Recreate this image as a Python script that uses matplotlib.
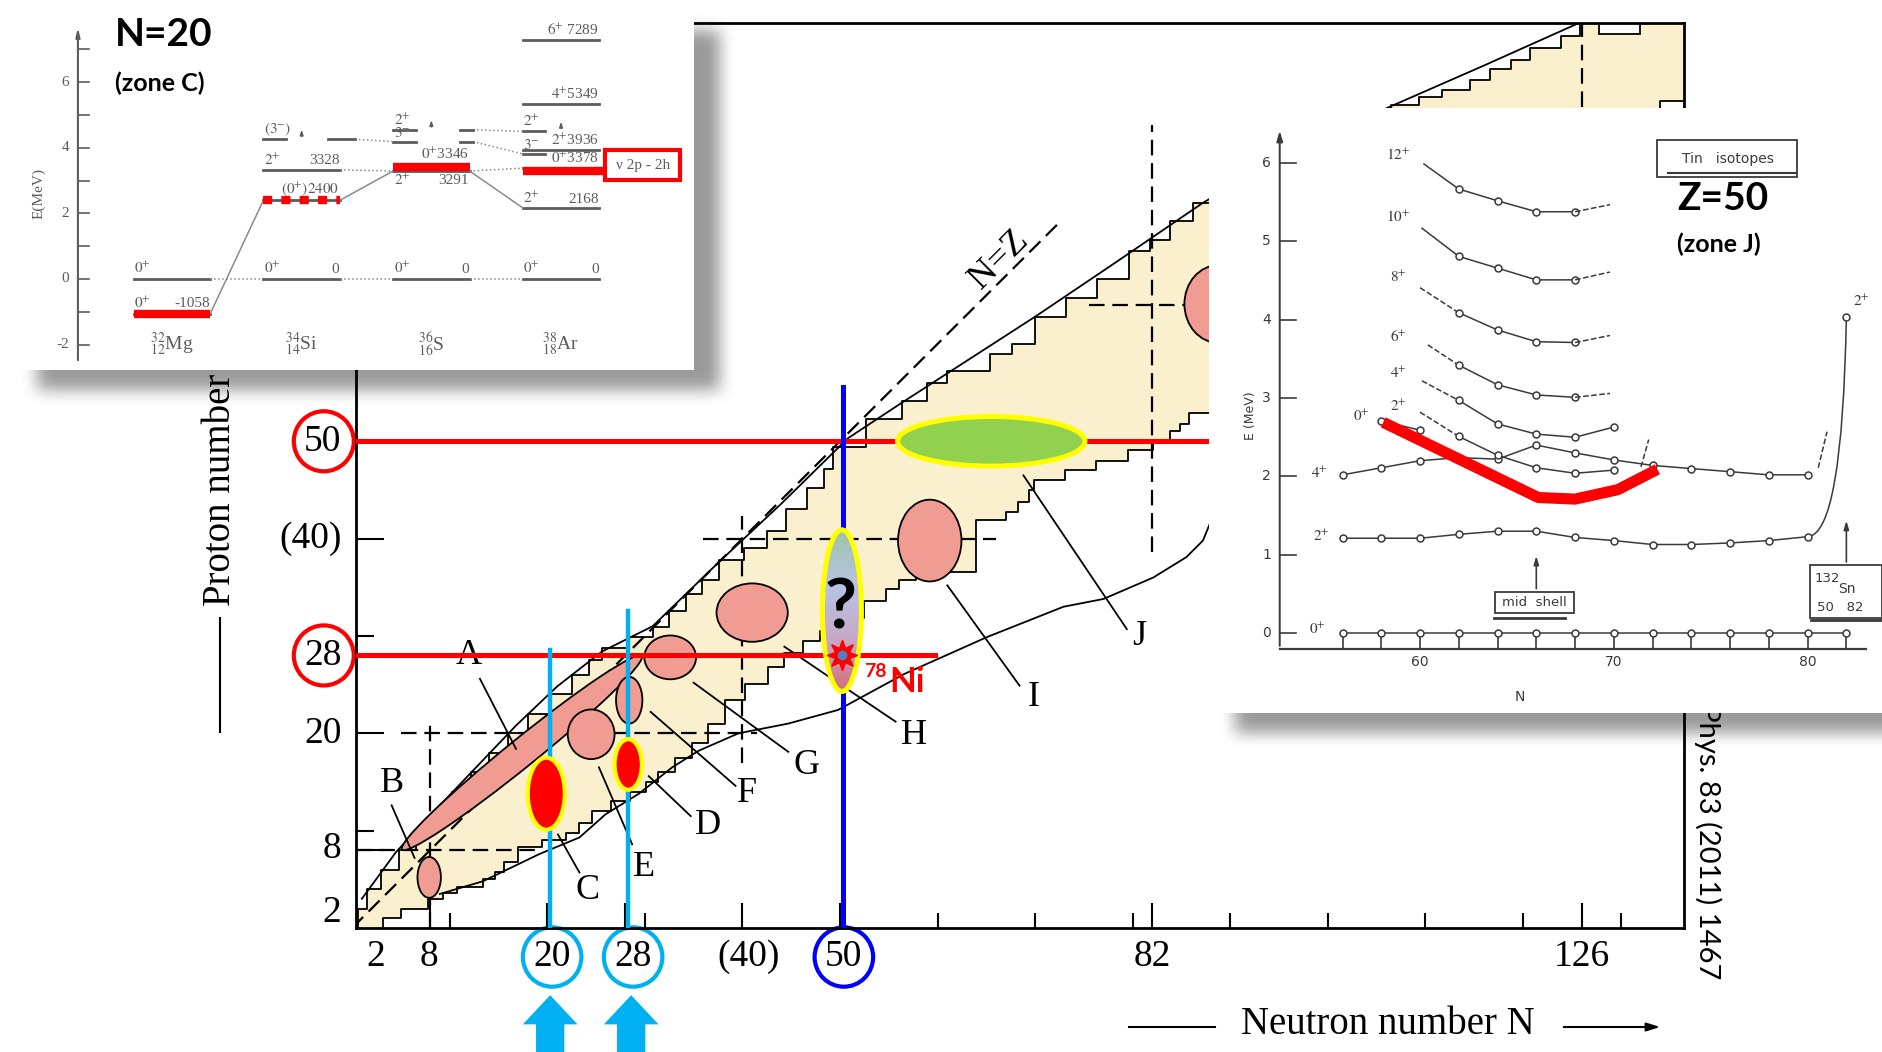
import numpy as np
import matplotlib
matplotlib.use("Agg")
import matplotlib.pyplot as plt
from matplotlib.patches import Ellipse, Rectangle, FancyArrow, PathPatch
from matplotlib.path import Path

plt.rcParams['font.family'] = ['Liberation Serif', 'DejaVu Serif']
plt.rcParams['mathtext.fontset'] = 'stix'

W, H = 1883, 1052

# ---------------- main chart data ----------------
# proton-rich edge of known nuclei: lightest N and the Z where that step ends
pr_N = [0.6, 1.5, 3.0, 4.8, 6.6, 8.4, 10.2, 12.2, 14.0, 16.0,
        18.0, 20.2, 22.5, 24.3, 25.6, 28.4, 30.8, 32.5, 34.2, 35.9,
        37.6, 40.2, 42.5, 44.5, 46.6, 48.4, 49.3, 52.7, 56.4, 58.9,
        61.0, 65.4, 67.6, 70.0, 73.2, 76.3, 79.6, 81.8, 83.8, 86.2,
        89.5, 92.5, 96.0, 99.5, 103.0, 106.5, 109.3, 111.7, 114.6, 116.6,
        118.8, 120.7, 123.9, 125.8]
pr_Ztop = [2.0, 4.0, 6.0, 8.0, 10.0, 12.0, 14.0, 16.0, 18.0, 20.0,
           22.0, 24.0, 26.0, 27.5, 28.8, 29.9, 30.9, 32.6, 34.3, 35.7,
           37.8, 39.0, 40.8, 43.0, 45.2, 47.2, 49.4, 52.3, 54.1, 56.0,
           57.2, 59.0, 60.0, 62.8, 64.7, 66.7, 69.5, 70.7, 72.6, 74.5,
           76.0, 77.5, 79.5, 81.5, 83.0, 84.5, 85.4, 86.1, 87.1, 88.2,
           89.2, 90.4, 91.6, 93.0]
# neutron-rich edge: heaviest N and the Z where that step starts
nr_N = [3.2, 5.0, 7.8, 9.3, 10.7, 13.4, 14.6, 15.6, 17.0, 19.5,
        21.9, 23.3, 24.6, 26.5, 28.5, 30.1, 31.4, 33.1, 34.8, 36.5,
        38.2, 40.3, 42.6, 44.3, 46.2, 48.0, 50.5, 52.5, 54.7, 56.1,
        57.8, 63.9, 67.0, 68.2, 69.4, 69.9, 73.1, 76.2, 79.5, 82.1,
        83.8, 84.8, 85.8, 88.0, 92.0, 98.0, 104.0, 110.0, 116.0, 122.0,
        128.0, 134.0, 140.0]
nr_Zbot = [0.0, 1.0, 2.0, 3.0, 3.6, 4.2, 5.0, 5.8, 6.8, 8.3,
           9.0, 9.8, 10.8, 12.0, 13.0, 14.0, 15.0, 16.0, 17.5, 19.0,
           21.0, 23.4, 25.1, 26.8, 28.2, 29.5, 30.5, 31.8, 33.6, 34.8,
           35.7, 36.6, 41.9, 42.7, 43.8, 45.0, 46.0, 47.0, 48.0, 49.1,
           50.1, 51.1, 51.8, 52.9, 55.0, 58.0, 62.0, 66.0, 70.0, 74.0,
           78.0, 82.0, 85.0]
# smooth limit lines
pdrip_N = [1.0, 4.5, 9.0, 12.8, 16.8, 21.0, 25.6, 30.8, 37.6, 44.0, 50.8,
           56.4, 61.5, 70.0, 78.0, 87.2, 96.0, 106.2, 116.0, 125.8]
pdrip_Z = [3.0, 7.8, 12.6, 16.6, 20.8, 24.8, 28.4, 31.0, 37.6, 43.6, 50.3,
           54.0, 57.3, 62.8, 68.2, 74.5, 79.6, 84.3, 88.6, 93.0]
ndrip_N = [9.0, 13.4, 19.2, 23.3, 26.0, 29.4, 32.8, 35.5, 39.6, 44.7,
           49.8, 56.6, 65.1, 72.9, 77.0, 82.1, 85.5, 87.2, 88.5]
ndrip_Z = [3.5, 4.8, 7.6, 9.3, 11.7, 13.8, 16.5, 18.2, 20.0, 21.0,
           22.4, 26.1, 29.9, 33.0, 33.8, 36.0, 38.1, 39.8, 43.0]

# shape-coexistence zones (pink)
pink_N = [7.9, 17.4, 24.5, 28.4, 32.6, 41.0, 59.2, 88.8]
pink_Z = [5.2, 18.0, 19.9, 23.4, 27.8, 32.4, 39.8, 64.1]
pink_w = [2.4, 31.6, 4.8, 2.7, 5.3, 7.3, 6.5, 7.0]
pink_h = [4.2, 2.9, 5.1, 4.8, 4.5, 6.0, 8.4, 8.0]
pink_ang = [0, 39, 0, 0, 0, 0, 0, 0]

lab = ['A', 'B', 'C', 'D', 'E', 'F', 'G', 'H', 'I', 'J']
lab_N = [12.0, 4.05, 24.1, 36.5, 29.9, 40.5, 46.6, 57.6, 69.9, 80.7]
lab_Z = [28.0, 14.8, 3.9, 10.5, 6.2, 13.8, 16.7, 19.8, 23.7, 29.9]
lead_N0 = [13.1, 4.05, 23.3, 34.7, 28.7, 39.3, 44.7, 55.7, 68.4, 79.4]
lead_Z0 = [25.6, 12.6, 5.7, 11.5, 8.6, 14.6, 18.1, 21.2, 24.9, 30.7]
lead_N1 = [16.8, 6.4, 21.1, 30.4, 25.3, 30.6, 35.0, 44.3, 61.0, 68.8]
lead_Z1 = [18.4, 7.2, 9.6, 15.6, 16.5, 22.2, 25.2, 28.9, 35.2, 46.5]

ylab_Z = [1.6, 8.1, 20, 28, 40, 50]
ylab_txt = ['2', '8', '20', '28', '(40)', '50']
xlab_N = [2.45, 7.9, 20.5, 28.8, 40.6, 50.4, 82, 126]
xlab_txt = ['2', '8', '20', '28', '(40)', '50', '82', '126']

# ---------------- left inset (N=20) data, MeV ----------------
nuc_lab = [r'${}^{32}_{12}$Mg', r'${}^{34}_{14}$Si', r'${}^{36}_{16}$S', r'${}^{38}_{18}$Ar']
lvl_col = [0, 0, 1, 1, 1, 2, 2, 3, 3, 3, 3, 3, 3]
lvl_E = [0.0, -1.058, 0.0, 2.4, 3.328, 0.0, 3.291, 0.0, 2.168, 3.378, 3.936, 5.349, 7.289]
short_col = [1, 2, 2, 3, 3]
short_E = [4.26, 4.19, 4.55, 3.81, 4.5]
red_col = [0, 1, 2, 3]
red_E = [-1.058, 2.40, 3.40, 3.30]

# ---------------- right inset (Sn isotopes) data, MeV ----------------
sn_N = [56, 58, 60, 62, 64, 66, 68, 70, 72, 74, 76, 78, 80, 82]
sn_0 = [0, 0, 0, 0, 0, 0, 0, 0, 0, 0, 0, 0, 0, 0]
sn_2 = [1.21, 1.21, 1.21, 1.26, 1.30, 1.30, 1.22, 1.18, 1.13, 1.13, 1.15, 1.18, 1.23, 4.04]
sn_4 = [2.02, 2.11, 2.20, 2.24, 2.22, 2.40, 2.30, 2.21, 2.14, 2.10, 2.06, 2.02, 2.02]
b0_N = [58, 60]
b0_E = [2.71, 2.59]
b2_E = [2.51, 2.27, 2.11, 2.04, 2.08]
b4_E = [2.97, 2.67, 2.54, 2.50, 2.63]
b6_E = [3.42, 3.17, 3.04, 3.01]
b8_E = [4.09, 3.87, 3.72, 3.71]
b10_E = [4.81, 4.66, 4.51, 4.51]
b12_E = [5.67, 5.52, 5.38, 5.38]
lead_in_N = [60.0, 60.1, 60.4, 60.0, 60.1, 60.2]
lead_in_E = [2.82, 3.22, 3.68, 4.41, 5.17, 5.99]
tail_E = [3.06, 3.80, 4.61, 5.47]
red_N = [58.1, 66.1, 68.0, 70.2, 72.25]
red_line_E = [2.69, 1.73, 1.71, 1.83, 2.09]


def px(x, y):
    # figure pixel (from top-left) -> inches for fig.dpi_scale_trans
    return x / 100, (H - y) / 100


def stairs_xy(n, z_edges):
    x = np.repeat(n, 2)
    y = np.column_stack([z_edges[:-1], z_edges[1:]]).ravel()
    return x, y


fig = plt.figure(figsize=(W / 100, H / 100), dpi=100)
fig.patch.set_facecolor('white')
ax = fig.add_axes([356 / W, 1 - 928 / H, (1684 - 356) / W, (928 - 22.7) / H])

# known-nuclei region
lx, ly = stairs_xy(np.array(pr_N), np.array([0] + pr_Ztop))
rx, ry = stairs_xy(np.array(nr_N), np.array(nr_Zbot + [93]))
ax.fill(np.concatenate([lx, rx[::-1]]), np.concatenate([ly, ry[::-1]]),
        color='#FAF0CD', lw=0, zorder=1)
ax.plot(lx, ly, color='k', lw=1.3, zorder=2)
ax.plot(rx, ry, color='k', lw=1.3, zorder=2)
ax.add_patch(Rectangle((127.8, 91.8), 4.2, 2, fc='white', ec='k', lw=1.3, zorder=2))
ax.plot(pdrip_N, pdrip_Z, color='k', lw=1.3, zorder=2)
ax.plot(ndrip_N, ndrip_Z, color='k', lw=1.3, zorder=2)

# dashed magic-number guides
dash = dict(color='k', lw=1.6, ls=(0, (7, 3.5)), zorder=2.5)
ax.plot([0, 72.6], [0, 72.6], **dash)
ax.plot([8, 8], [0, 21.4], **dash)
ax.plot([0.4, 19.5], [8, 8], **dash)
ax.plot([5, 41.5], [20, 20], **dash)
ax.plot([40, 40], [17, 42.3], **dash)
ax.plot([36, 66], [40, 40], **dash)
ax.plot([82, 82], [38.6, 82.5], **dash)
ax.plot([75.5, 96], [64, 64], **dash)
ax.plot([126, 126], [70, 93], **dash)
ax.text(66.3, 68.6, 'N=Z', rotation=44.9, fontsize=26, ha='center', va='center', zorder=3)

for n, z, w, h, a in zip(pink_N, pink_Z, pink_w, pink_h, pink_ang):
    ax.add_patch(Ellipse((n, z), w, h, angle=a, fc='#F09C92', ec='k', lw=1.3, zorder=3))
for i in range(len(lab)):
    ax.plot([lead_N0[i], lead_N1[i]], [lead_Z0[i], lead_Z1[i]], color='k', lw=1.3, zorder=3)
    ax.text(lab_N[i], lab_Z[i], lab[i], fontsize=26, ha='center', va='center', zorder=3)

# highlighted magic lines
ax.plot([0.4, 59.7], [28, 28], color='#FF0000', lw=3.6, zorder=4)
ax.plot([0.4, 136.5], [50, 50], color='#FF0000', lw=3.6, zorder=4)
ax.plot([20.3, 20.3], [0, 28.6], color='#00B0F0', lw=3.2, zorder=4)
ax.plot([28.3, 28.3], [0, 32.6], color='#00B0F0', lw=3.2, zorder=4)
ax.plot([50.3, 50.3], [0, 55.6], color='#0000FF', lw=3.6, zorder=4.5)

ax.add_patch(Ellipse((19.9, 13.8), 3.8, 7.4, fc='#FF0000', ec='#FFFF00', lw=3, zorder=5))
ax.add_patch(Ellipse((28.3, 16.8), 2.8, 5.2, fc='#FF0000', ec='#FFFF00', lw=3, zorder=5))
ax.add_patch(Ellipse((65.5, 50.0), 19.2, 5.1, fc='#92D050', ec='#FFFF00', lw=3.6, zorder=5))

# 78Ni question-mark zone with gradient fill
stops = [0.0, 0.35, 0.7, 1.0]
cols = np.array([[0x9F, 0xC3, 0xA9], [0xB7, 0xC3, 0xE3], [0xC8, 0xA6, 0xC4], [0xD6, 0x6A, 0x78]]) / 255
t = np.linspace(0, 1, 80)
grad = np.stack([np.interp(t, stops, cols[:, k]) for k in range(3)], axis=-1)[:, None, :]
grad = np.repeat(grad, 4, axis=1)
im = ax.imshow(grad, extent=[48.0, 52.4, 24.0, 41.0], aspect='auto', zorder=5, interpolation='bilinear')
clip = Ellipse((50.2, 32.6), 4.0, 16.6, transform=ax.transData)
im.set_clip_path(clip)
ax.add_patch(Ellipse((50.2, 32.6), 4.0, 16.6, fill=False, ec='#FFFF00', lw=3.6, zorder=5.5))
ax.text(50.1, 32.8, '?', family='Lato', fontweight='bold', fontsize=50, ha='center', va='center', zorder=6)
ax.plot(50.2, 28.0, marker=(8, 1, 0), ms=22, color='#FF0000', mec='#FF0000', zorder=7)
ax.plot(50.2, 28.0, 'o', ms=6, color='#4F81BD', zorder=8)
ax.text(52.5, 25.75, '78', family='Lato', fontweight='bold', fontsize=14, color='#FF0000', zorder=7)
ax.text(55.1, 24.2, 'Ni', family='Lato', fontweight='bold', fontsize=25, color='#FF0000', zorder=7)

ax.set_xlim(0.4, 136.5)
ax.set_ylim(0, 93)
ax.set_xticks([8, 20, 28, 40, 50, 82, 126])
ax.set_xticks([10, 30, 60, 70, 80, 90, 100, 110, 120, 130], minor=True)
ax.set_yticks([8, 20, 28, 40, 50])
ax.set_yticks([10, 30, 60, 70, 80, 90], minor=True)
ax.tick_params(which='both', direction='in', labelbottom=False, labelleft=False, width=1.5)
ax.tick_params(axis='x', which='major', length=18)
ax.tick_params(axis='x', which='minor', length=11)
ax.tick_params(axis='y', which='major', length=20)
ax.tick_params(axis='y', which='minor', length=13)
for s in ax.spines.values():
    s.set_linewidth(2)

for z, s in zip(ylab_Z, ylab_txt):
    ax.text(-1.1, z, s, fontsize=27, ha='right', va='center', clip_on=False)
for n, s in zip(xlab_N, xlab_txt):
    ax.text(n, -2.98, s, fontsize=27, ha='center', va='center', clip_on=False)
for z in [50, 28]:
    ax.add_patch(Ellipse((-2.9, z), 6.15, 6.17, fill=False, ec='#FF0000', lw=3, clip_on=False))
for n in [20.5, 28.8]:
    ax.add_patch(Ellipse((n, -2.98), 6.0, 6.1, fill=False, ec='#00B0F0', lw=3, clip_on=False))
    ax.add_patch(FancyArrow(n - 0.2, -13.5, 0, 6.6, width=2.9, head_width=5.6, head_length=3.0,
                            length_includes_head=True, color='#00B0F0', lw=0, clip_on=False))
ax.add_patch(Ellipse((50.4, -2.98), 6.0, 6.1, fill=False, ec='#0000FF', lw=3, clip_on=False))

# axis titles drawn in figure pixels
ax.text(*px(220, 490), 'Proton number', rotation=90, fontsize=28, ha='center', va='center',
        transform=fig.dpi_scale_trans)
ax.plot([2.20, 2.20], [(H - 618) / 100, (H - 732) / 100], color='k', lw=1.5,
        transform=fig.dpi_scale_trans, clip_on=False)
ax.text(*px(1388, 1024), 'Neutron number N', fontsize=28, ha='center', va='center',
        transform=fig.dpi_scale_trans)
ax.plot([11.29, 12.15], [(H - 1027) / 100] * 2, color='k', lw=1.5,
        transform=fig.dpi_scale_trans, clip_on=False)
ax.annotate('', xy=px(1663, 1027), xytext=px(1561, 1027), xycoords=fig.dpi_scale_trans,
            textcoords=fig.dpi_scale_trans, annotation_clip=False,
            arrowprops=dict(arrowstyle='-|>,head_length=0.8,head_width=0.25', color='k', lw=1.5))
ax.text(*px(1708, 979), 'Rev. Mod. Phys. 83 (2011) 1467', rotation=-90, family='Lato', fontsize=21,
        ha='center', va='bottom', transform=fig.dpi_scale_trans)

# ---------------- drop shadows behind the two insets ----------------
def box_blur(a, r):
    k = 2 * r + 1
    for axis in (0, 1):
        pad = [(0, 0), (0, 0)]
        pad[axis] = (r + 1, r)
        c = np.cumsum(np.pad(a, pad, mode='edge'), axis=axis)
        a = (c[k:] - c[:-k]) / k if axis == 0 else (c[:, k:] - c[:, :-k]) / k
    return a


mask = np.zeros((H, W))
dx, dy = 26, 20
mask[10 + dy:370 + dy, 11 + dx:694 + dx] = 1
mask[108 + dy:713 + dy, 1209 + dx:W] = 1
for _ in range(3):
    mask = box_blur(mask, 7)
shade = np.zeros((H, W, 4))
shade[..., 3] = 0.4 * mask
axS = fig.add_axes([0, 0, 1, 1], zorder=2)
axS.imshow(shade, extent=(0, W, H, 0), aspect='auto', interpolation='nearest')
axS.set_xlim(0, W)
axS.set_ylim(H, 0)
axS.axis('off')


def bare(a):
    for s in a.spines.values():
        s.set_visible(False)
    a.set_xticks([])
    a.set_yticks([])
    a.set_facecolor('white')


# ---------------- left inset: N=20 level scheme ----------------
axL = fig.add_axes([11 / W, 1 - 370 / H, (694 - 11) / W, (370 - 10) / H], zorder=3)
bare(axL)
axL.set_xlim(-1.241, 4.025)
axL.set_ylim(-2.774, 8.20)
g = '#5c5c5c'
axL.annotate('', xy=(-0.725, 7.75), xytext=(-0.725, -2.56),
             arrowprops=dict(arrowstyle='-|>,head_length=0.5,head_width=0.12', color=g, lw=1.5))
for e in range(-2, 8):
    axL.plot([-0.725, -0.64], [e, e], color=g, lw=1.2)
for e in [-2, 0, 2, 4, 6]:
    axL.text(-0.79, e, str(e), ha='right', va='center', fontsize=11, color=g)
axL.text(-1.03, 2.62, 'E(MeV)', rotation=90, ha='center', va='center', fontsize=11, color=g)

hw = 0.295
for c, e in zip(lvl_col, lvl_E):
    axL.plot([c - hw, c + hw], [e, e], color=g, lw=2)
for c, e in zip(short_col, short_E):
    axL.plot([c - hw, c - 0.12], [e, e], color=g, lw=2)
for c0, e0, c1, e1, st in [(0.295, 0, 0.705, 0, ':'), (1.295, 0, 1.705, 0, ':'), (2.295, 0, 2.705, 0, ':'),
                           (0.295, -1.058, 0.705, 2.4, '-'), (1.295, 2.4, 1.705, 3.291, '-'),
                           (2.295, 3.291, 2.705, 2.168, '-'), (1.295, 3.328, 1.705, 3.291, ':'),
                           (2.295, 3.291, 2.705, 3.378, ':'), (1.41, 4.26, 1.705, 4.19, ':'),
                           (2.32, 4.19, 2.705, 3.81, ':'), (2.32, 4.55, 2.705, 4.5, ':')]:
    axL.plot([c0, c1], [e0, e1], color='#8a8a8a', lw=1.1, ls=st)
for c0, c1, e in [(1.20, 1.41, 4.26), (2.22, 2.32, 4.19), (2.22, 2.32, 4.55)]:
    axL.plot([c0, c1], [e, e], color=g, lw=2)
for c, e0 in [(1.0, 4.26), (2.0, 4.55), (3.0, 4.5)]:
    axL.annotate('', xy=(c, e0 + 0.38), xytext=(c, e0),
                 arrowprops=dict(arrowstyle='-|>,head_length=0.3,head_width=0.1', color=g, lw=1))

for c, e in zip(red_col, red_E):
    x1 = 3.34 if c == 3 else c + hw
    ls = (0, (1.1, 1.1)) if c == 1 else '-'
    axL.plot([c - hw, x1], [e, e], color='#FF0000', lw=6, ls=ls, solid_capstyle='butt',
             dash_capstyle='butt', zorder=4)
axL.add_patch(Rectangle((3.34, 3.02), 0.58, 0.91, fill=False, ec='#FF0000', lw=3, zorder=4))
axL.text(3.63, 3.47, 'ν 2p - 2h', fontsize=11, color=g, ha='center', va='center')

lvl_txt = [(-0.29, 0.08, '$0^{+}$', 'left'), (-0.29, -0.96, '$0^{+}$', 'left'),
           (0.29, -0.96, '-1058', 'right'),
           (0.71, 0.08, '$0^{+}$', 'left'), (1.29, 0.08, '0', 'right'),
           (1.29, 2.48, '$(0^{+})2400$', 'right'), (0.71, 3.40, '$2^{+}$', 'left'),
           (1.29, 3.40, '3328', 'right'), (0.71, 4.30, '$(3^{-})$', 'left'),
           (1.71, 0.08, '$0^{+}$', 'left'), (2.29, 0.08, '0', 'right'),
           (2.29, 3.56, '$0^{+}$3346', 'right'), (1.71, 4.60, '$2^{+}$', 'left'),
           (1.71, 4.23, '$3^{-}$', 'left'),
           (2.71, 0.08, '$0^{+}$', 'left'), (3.29, 0.08, '0', 'right'),
           (2.71, 2.24, '$2^{+}$', 'left'), (3.29, 2.24, '2168', 'right'),
           (3.29, 3.44, '$0^{+}$3378', 'right'), (2.71, 3.86, '$3^{-}$', 'left'),
           (3.29, 3.98, '$2^{+}$3936', 'right'), (2.71, 4.56, '$2^{+}$', 'left'),
           (3.29, 5.40, '$4^{+}$5349', 'right'), (3.29, 7.34, '$6^{+}$ 7289', 'right')]
for c, e, s, ha in lvl_txt:
    axL.text(c, e, s, fontsize=11, color=g, ha=ha, va='bottom')
axL.text(2.29, 3.0, '3291', fontsize=11, color=g, ha='right', va='center')
axL.text(1.71, 3.0, '$2^{+}$', fontsize=11, color=g, ha='left', va='center')
for c, s in enumerate(nuc_lab):
    axL.text(c, -2.0, s, fontsize=14, color=g, ha='center', va='center')
axL.text(-0.44, 7.99, 'N=20', family='Lato', fontweight='bold', fontsize=28, ha='left', va='top')
axL.text(-0.44, 6.31, '(zone C)', family='Lato', fontweight='bold', fontsize=18, ha='left', va='top')

# ---------------- right inset: Sn isotopes ----------------
axR = fig.add_axes([1209 / W, 1 - 713 / H, (W - 1209) / W, (713 - 108) / H], zorder=3)
bare(axR)
axR.set_xlim(49.11, 83.89)
axR.set_ylim(-1.022, 6.705)
k = '#3a3a3a'
axR.annotate('', xy=(52.76, 6.45), xytext=(52.76, -0.2),
             arrowprops=dict(arrowstyle='-|>,head_length=0.6,head_width=0.18', color=k, lw=1.4))
axR.plot([52.76, 83.03], [-0.2, -0.2], color=k, lw=1.6)
for e in range(0, 7):
    axR.plot([52.76, 53.6], [e, e], color=k, lw=1.2)
    axR.text(52.3, e, str(e), fontsize=10, color=k, ha='right', va='center', family='DejaVu Sans')
for n in sn_N:
    axR.plot([n, n], [-0.2, -0.02], color=k, lw=1.2)
for n in [60, 70, 80]:
    axR.text(n, -0.37, str(n), fontsize=10, color=k, ha='center', va='center', family='DejaVu Sans')
axR.text(65.16, -0.82, 'N', fontsize=10, color=k, ha='center', va='center', family='DejaVu Sans')
axR.text(51.23, 2.77, 'E (MeV)', fontsize=9, color=k, rotation=90, ha='center', va='center',
         family='DejaVu Sans')

pt = dict(color=k, lw=1.1, marker='o', ms=5, mfc='white', mec=k, mew=1.1)
axR.plot(sn_N, sn_0, **pt)
axR.plot(sn_N[:-1], sn_2[:-1], **pt)
axR.plot(sn_N[-1], sn_2[-1], **pt)
axR.add_patch(PathPatch(Path([(80, sn_2[-2]), (81.8, 1.25), (82, sn_2[-1])],
                             [Path.MOVETO, Path.CURVE3, Path.CURVE3]), fill=False, ec=k, lw=1.1))
axR.plot(sn_N[:13], sn_4, **pt)
axR.plot(b0_N, b0_E, **pt)
bands = [b2_E, b4_E, b6_E, b8_E, b10_E, b12_E]
for i, be in enumerate(bands):
    bn = sn_N[3:3 + len(be)]
    axR.plot([lead_in_N[i], bn[0]], [lead_in_E[i], be[0]], color=k, lw=1.1,
             ls='--' if i < 4 else '-')
    axR.plot(bn, be, **pt)
    if i >= 2:
        axR.plot([bn[-1], 69.8], [be[-1], tail_E[i - 2]], color=k, lw=1.1, ls='--')
axR.plot([80.55, 81.0], [2.11, 2.57], color=k, lw=1.1, ls='--')
axR.plot([71.4, 71.8], [2.12, 2.47], color=k, lw=1.1, ls='--')
axR.plot(red_N, red_line_E, color='#FF0000', lw=8, solid_capstyle='butt', solid_joinstyle='round', zorder=5)

for n, e, s in [(58.87, 6.10, '12'), (58.87, 5.31, '10'), (58.87, 4.54, '8'), (58.87, 3.77, '6'),
                (58.87, 3.32, '4'), (58.87, 2.90, '2'), (56.96, 2.77, '0'), (54.8, 2.04, '4'),
                (54.9, 1.24, '2'), (54.7, 0.05, '0'), (82.76, 4.24, '2')]:
    axR.text(n, e, '$' + s + '^{+}$', fontsize=11, color=k, ha='center', va='center')

axR.add_patch(Rectangle((72.23, 5.82), 7.22, 0.48, fill=False, ec=k, lw=1.3))
axR.text(75.9, 6.05, 'Tin   isotopes', fontsize=10, color=k, ha='center', va='center', family='DejaVu Sans')
axR.plot([72.8, 79.4], [5.88, 5.88], color=k, lw=1.5)
axR.add_patch(Rectangle((63.87, 0.26), 4.08, 0.26, fill=False, ec=k, lw=1.3))
axR.text(65.9, 0.39, 'mid  shell', fontsize=9.5, color=k, ha='center', va='center', family='DejaVu Sans')
axR.plot([63.8, 67.5], [0.19, 0.19], color=k, lw=2)
axR.annotate('', xy=(66, 1.02), xytext=(66, 0.53),
             arrowprops=dict(arrowstyle='-|>,head_length=0.5,head_width=0.15', color=k, lw=1.2))
axR.add_patch(Rectangle((80.12, 0.19), 3.72, 0.68, fill=False, ec=k, lw=1.3))
axR.text(80.35, 0.70, '132', fontsize=9.5, color=k, ha='left', va='center', family='DejaVu Sans')
axR.text(81.6, 0.56, 'Sn', fontsize=10, color=k, ha='left', va='center', family='DejaVu Sans')
axR.text(80.5, 0.33, '50   82', fontsize=9.5, color=k, ha='left', va='center', family='DejaVu Sans')
axR.plot([80.2, 83.8], [0.16, 0.16], color=k, lw=2)
axR.annotate('', xy=(82, 1.47), xytext=(82, 0.87),
             arrowprops=dict(arrowstyle='-|>,head_length=0.5,head_width=0.15', color=k, lw=1.2))
axR.text(73.26, 5.77, 'Z=50', family='Lato', fontweight='bold', fontsize=28, ha='left', va='top')
axR.text(73.26, 5.12, '(zone J)', family='Lato', fontweight='bold', fontsize=18, ha='left', va='top')

fig.savefig('out.png', dpi=100)
